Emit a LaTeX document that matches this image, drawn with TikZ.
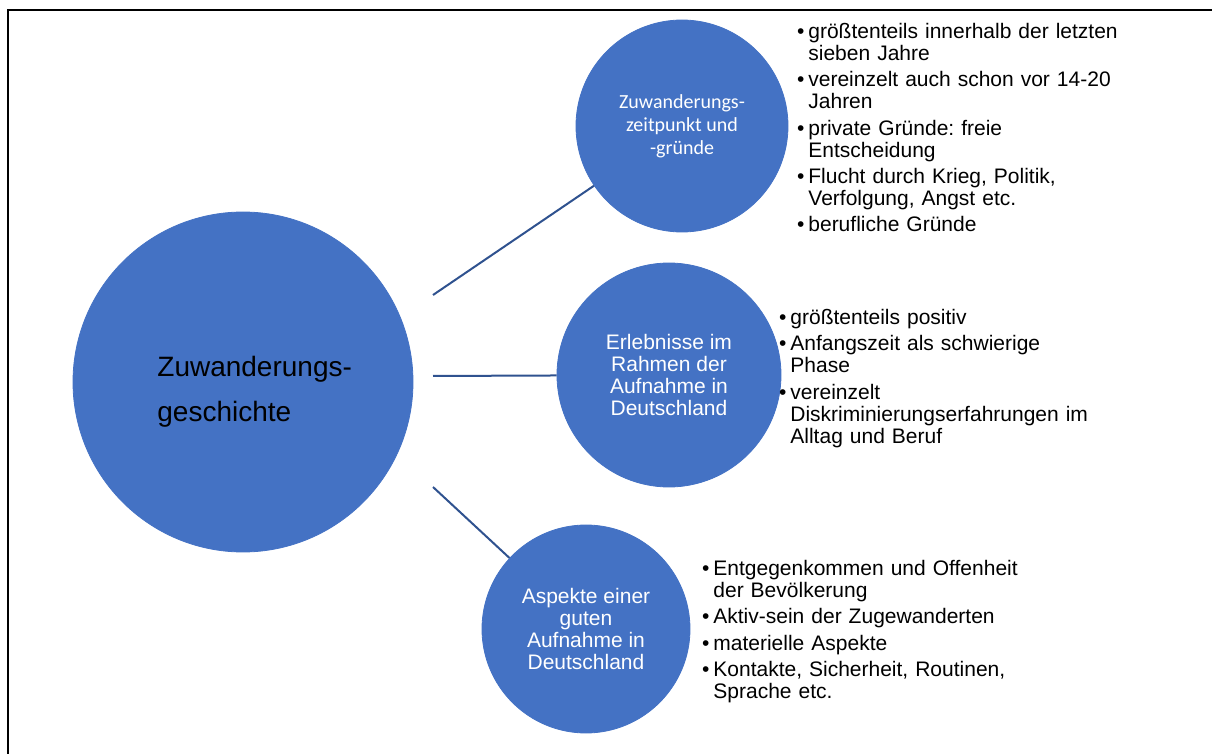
\documentclass[tikz,border=0pt]{standalone}
\usepackage{fontspec}
\setmainfont{Liberation Sans}
\newfontfamily\calibri{Carlito}
\frenchspacing

\definecolor{kreisblau}{HTML}{4472C4}
\definecolor{linienblau}{HTML}{2F528F}

\newenvironment{punkte}{%
	\begin{list}{\textbullet}{%
		\setlength{\leftmargin}{6pt}%
		\setlength{\labelwidth}{4pt}%
		\setlength{\labelsep}{2pt}%
		\setlength{\itemsep}{2.2pt}%
		\setlength{\parsep}{0pt}%
		\setlength{\topsep}{0pt}%
		\setlength{\partopsep}{0pt}}}%
	{\end{list}}

\begin{document}
\begin{tikzpicture}[%
		x=0.5pt, y=-0.5pt,
		kreis/.style={circle, fill=kreisblau, draw=kreisblau, text=white, align=center,
			inner sep=0pt, font=\fontsize{10.5}{11}\selectfont},
		liste/.style={anchor=north west, inner sep=0pt, text width=170pt, align=left,
			font=\fontsize{10.5}{11}\selectfont},
		ast/.style={draw=linienblau, line width=1pt}]
	\useasboundingbox (0,0) rectangle (1212,754);
	\draw[line width=1pt] (8,754) -- (8,10) -- (1212,10);

	\node[kreis, minimum size=170pt] (geschichte) at (243,382) {};
	\node[anchor=west, align=left, inner sep=0pt, font=\fontsize{14}{22.5}\selectfont]
		(titel) at (157,392) {Zuwanderungs-\\geschichte};

	\node[kreis, minimum size=106pt, font=\calibri\fontsize{10}{11.5}\selectfont]
		(zeitpunkt) at (682,126) {Zuwanderungs-\\zeitpunkt und\\-gründe};
	\node[kreis, minimum size=112pt] (erlebnisse) at (669,375)
		{Erlebnisse im\\Rahmen der\\Aufnahme in\\Deutschland};
	\node[kreis, minimum size=104pt] (aspekte) at (586,629)
		{Aspekte einer\\guten\\Aufnahme in\\Deutschland};

	\node[liste] (zeitliste) at (796,16) {%
		\begin{punkte}
			\item größtenteils innerhalb der letzten\newline sieben Jahre
			\item vereinzelt auch schon vor 14-20\newline Jahren
			\item private Gründe: freie\newline Entscheidung
			\item Flucht durch Krieg, Politik,\newline Verfolgung, Angst etc.
			\item berufliche Gründe
		\end{punkte}};
	\node[liste] (erlebnisliste) at (778,302) {%
		\begin{punkte}
			\item größtenteils positiv
			\item Anfangszeit als schwierige\newline Phase
			\item vereinzelt\newline Diskriminierungserfahrungen im\newline Alltag und Beruf
		\end{punkte}};
	\node[liste] (aspektliste) at (701,553) {%
		\begin{punkte}
			\item Entgegenkommen und Offenheit\newline der Bevölkerung
			\item Aktiv-sein der Zugewanderten
			\item materielle Aspekte
			\item Kontakte, Sicherheit, Routinen,\newline Sprache etc.
		\end{punkte}};

	\coordinate (ast1) at (433,295);
	\coordinate (ast2) at (433,376);
	\coordinate (ast3) at (433,487);
	\draw[ast] (ast1) -- (zeitpunkt);
	\draw[ast] (ast2) -- (erlebnisse);
	\draw[ast] (ast3) -- (aspekte);
\end{tikzpicture}
\end{document}
